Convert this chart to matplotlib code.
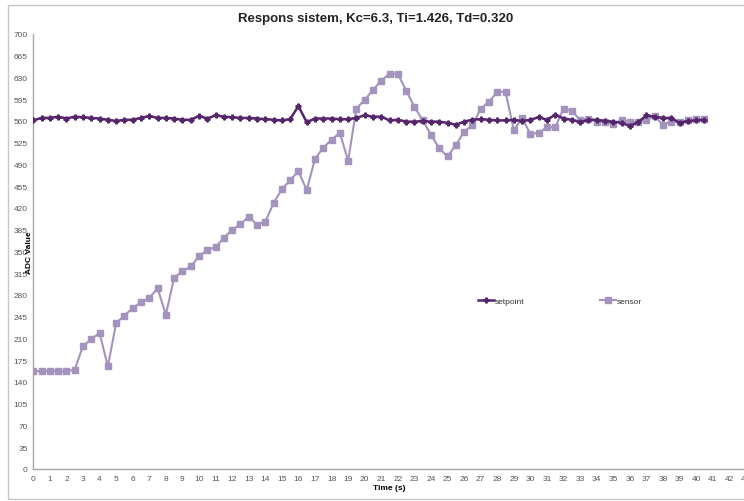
import matplotlib.pyplot as plt
import numpy as np
from matplotlib.patches import Rectangle

plt.rcParams['font.family'] = ['Liberation Sans', 'DejaVu Sans']

# sample time (s), one reading every 0.5 s
time_s = np.arange(0, 41, 0.5)

setpoint = [561, 565, 565, 567, 564, 567, 566, 565, 564, 562,
            560, 562, 562, 565, 568, 565, 565, 564, 562, 562,
            568, 564, 569, 567, 566, 565, 565, 564, 563, 562,
            561, 563, 584, 558, 564, 564, 564, 563, 563, 565,
            569, 567, 567, 561, 562, 559, 559, 560, 559, 559,
            557, 554, 559, 562, 563, 562, 561, 561, 562, 560,
            562, 566, 562, 570, 564, 562, 558, 562, 562, 560,
            559, 557, 552, 558, 569, 567, 565, 565, 557, 560,
            561, 562]

sensor = [158, 157, 158, 157, 157, 160, 198, 209, 219, 165,
          235, 247, 259, 268, 275, 291, 248, 308, 318, 326,
          342, 353, 357, 372, 385, 394, 406, 393, 398, 428,
          450, 465, 479, 449, 499, 517, 530, 541, 496, 580,
          594, 610, 625, 636, 636, 609, 583, 561, 538, 516,
          503, 521, 543, 553, 580, 591, 607, 607, 545, 565,
          539, 541, 550, 550, 580, 576, 562, 563, 559, 558,
          555, 562, 558, 559, 562, 568, 554, 559, 558, 561,
          563, 563]

y_ticks = np.arange(0, 701, 35)
x_ticks = np.arange(0, 44, 1)

fig = plt.figure(figsize=(7.44, 5.02), dpi=100)
ax = fig.add_axes([33.3/744, 32/502, 712.5/744, 435/502])

ax.plot(time_s, setpoint, color='#55266b', lw=1.8, marker='P', markersize=3.5,
        label='setpoint', zorder=3)
ax.plot(time_s, sensor, color='#a393bd', lw=1.5, marker='s', markersize=5,
        label='sensor', zorder=2)

ax.set_xlim(0, 43)
ax.set_ylim(0, 700)
ax.set_xticks(x_ticks)
ax.set_yticks(y_ticks)
ax.tick_params(length=0, labelsize=6, labelcolor='#555555', pad=4)
for t in ax.get_xticklabels():
	t.set_clip_on(False)

for s in ['top', 'right']:
	ax.spines[s].set_visible(False)
for s in ['left', 'bottom']:
	ax.spines[s].set_color('#a6a6a6')
	ax.spines[s].set_linewidth(1.0)

ax.set_xlabel('Time (s)', fontsize=6, fontweight='bold', labelpad=2)
ax.set_ylabel('ADC Value', fontsize=6, fontweight='bold', labelpad=-14)

fig.text(376/744, 1 - 19/502, 'Respons sistem, Kc=6.3, Ti=1.426, Td=0.320',
         ha='center', va='center', fontsize=9.5, fontweight='bold', color='#222222')

ax.legend(loc='center left', bbox_to_anchor=(470/744, 1 - 302/502),
          bbox_transform=fig.transFigure, ncol=2, frameon=False, fontsize=6,
          handlelength=2.0, handletextpad=0.1, columnspacing=9.0,
          labelcolor='#333333')

# light chart frame
fig.patches.append(Rectangle((8/744, 2/502), 740/744, 494/502, transform=fig.transFigure,
                             fill=False, edgecolor='#c8c8c8', lw=1.0))

fig.savefig('out.png', dpi=100)
